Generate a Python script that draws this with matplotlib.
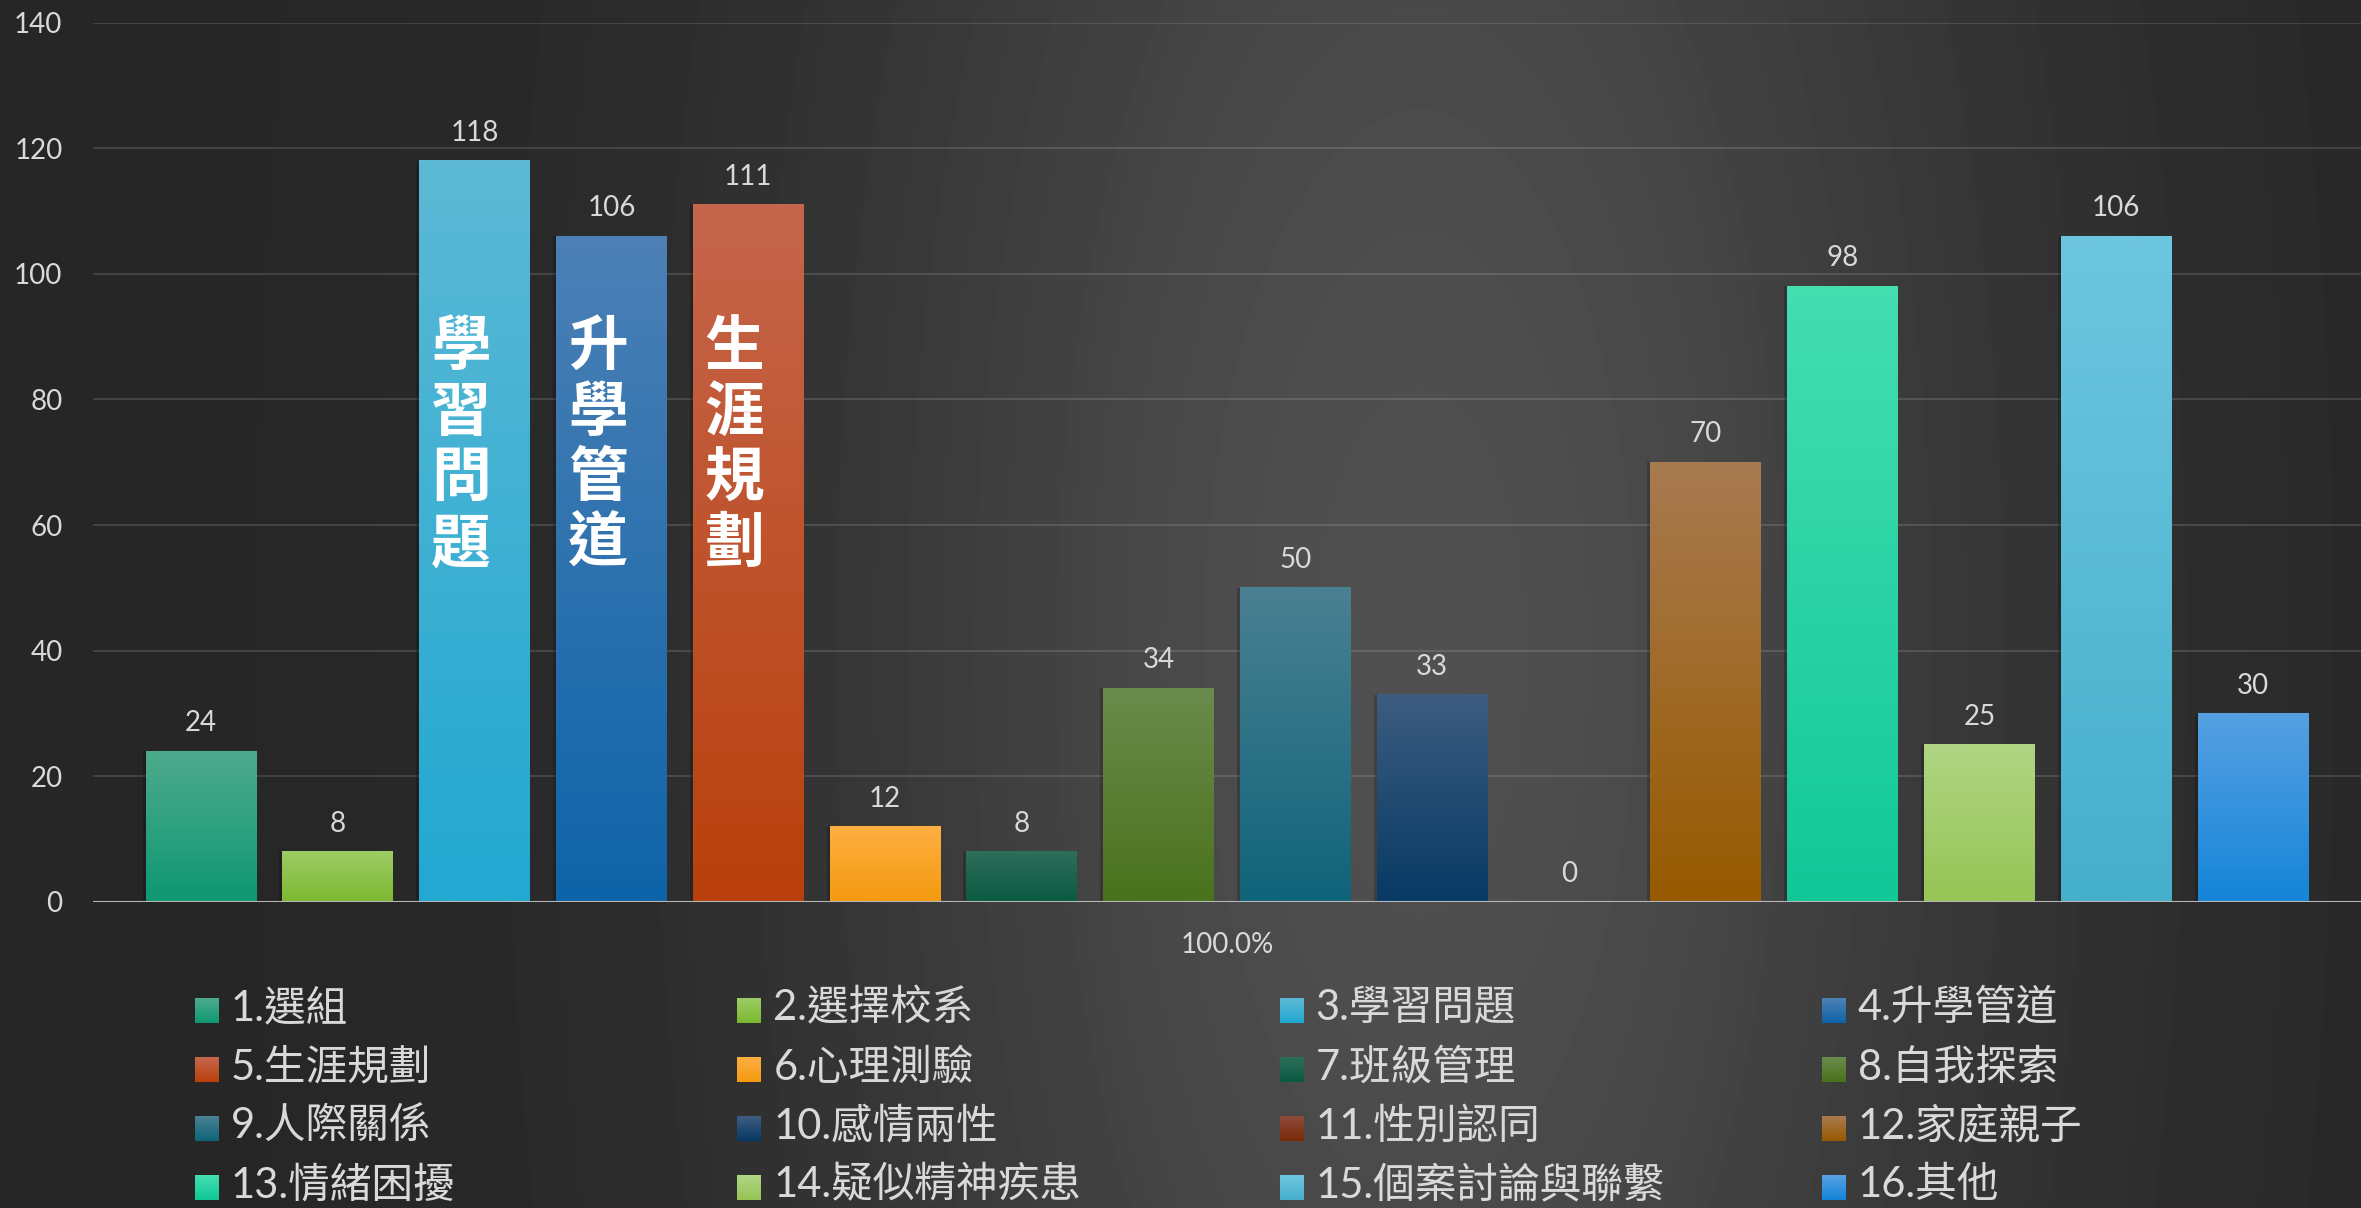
import numpy as np
import matplotlib.pyplot as plt
from matplotlib.colors import to_rgb
from matplotlib.transforms import offset_copy

# ----------------------------------------------------------------------
# Data: counselling topics and number of cases
# ----------------------------------------------------------------------
CATEGORIES = [
    "1.選組", "2.選擇校系", "3.學習問題", "4.升學管道",
    "5.生涯規劃", "6.心理測驗", "7.班級管理", "8.自我探索",
    "9.人際關係", "10.感情兩性", "11.性別認同", "12.家庭親子",
    "13.情緒困擾", "14.疑似精神疾患", "15.個案討論與聯繫", "16.其他",
]
COUNTS = [24, 8, 118, 106, 111, 12, 8, 34, 50, 33, 0, 70, 98, 25, 106, 30]

# gradient fill per bar (top -> bottom)
TOP_COLORS = [
    "#4DAA8C", "#9DCC66", "#5CB9D5", "#4C80B6",
    "#C5664C", "#FDAF42", "#2E6E5A", "#6A8B4C",
    "#4A8092", "#3D5C80", "#8D4B3A", "#A87A50",
    "#44DEB0", "#B0D583", "#6DC6E0", "#56A0E2",
]
BOTTOM_COLORS = [
    "#0F9873", "#7CB830", "#22A8D1", "#0E64A8",
    "#B9400C", "#F59A10", "#0A5A42", "#4A721C",
    "#10647A", "#073A64", "#7A2A08", "#975A00",
    "#12C898", "#96C455", "#46AFCB", "#1585D8",
]

# vertical captions written inside the three tallest bars
BAR_NOTES = {2: "學習問題", 3: "升學管道", 4: "生涯規劃"}

Y_TICKS = [0, 20, 40, 60, 80, 100, 120, 140]
GROUP_LABEL = "100.0%"

plt.rcParams["font.family"] = ["Lato", "Noto Sans CJK TC", "DejaVu Sans"]
TEXT_GREY = "#d9d9d9"

W, H, DPI = 2361, 1208, 100
fig = plt.figure(figsize=(W / DPI, H / DPI), dpi=DPI)


def gradient(top, bottom, n=64):
    t = np.linspace(0, 1, n)[:, None, None]
    return (1 - t) * np.array(to_rgb(top)) + t * np.array(to_rgb(bottom))


# ----------------------------------------------------------------------
# Background: dark slate with a soft light patch right of centre
# ----------------------------------------------------------------------
bg = fig.add_axes([0, 0, 1, 1], zorder=0)
yy, xx = np.mgrid[0:H:4, 0:W:4]
r2 = ((xx - 1420) / 1000) ** 2 + ((yy - 650) / 2500) ** 2
level = (38 + 42 * np.exp(-r2 / 0.35)) / 255
bg.imshow(level, cmap="gray", vmin=0, vmax=1, extent=(0, W, H, 0),
          interpolation="bilinear", aspect="auto")

# legend, laid out row by row in four even columns
for k, (label, c0, c1) in enumerate(zip(CATEGORIES, TOP_COLORS, BOTTOM_COLORS)):
    row, col = divmod(k, 4)
    x0 = 195 + 542.3 * col
    y0 = 998 + 59 * row
    bg.imshow(gradient(c0, c1, 16), extent=(x0, x0 + 24, y0 + 25, y0),
              aspect="auto", interpolation="bilinear")
    bg.text(x0 + 36, y0 + 22.5, label, fontsize=30, color=TEXT_GREY,
            va="baseline", ha="left")

bg.set_xlim(0, W)
bg.set_ylim(H, 0)
bg.axis("off")

# ----------------------------------------------------------------------
# Bar chart
# ----------------------------------------------------------------------
y0_px, y140_px, left_px = 902, 22.6, 93
ax = fig.add_axes([left_px / W, (H - y0_px) / H,
                   (W - left_px) / W, (y0_px - y140_px) / H], zorder=1)
ax.patch.set_alpha(0)

x = np.arange(len(COUNTS))
width = 0.81

# soft drop shadow behind each bar
shadow_tr = offset_copy(ax.transData, fig=fig, x=-3, y=0, units="dots")
ax.bar(x, COUNTS, width=width, color="black", alpha=0.2,
       transform=shadow_tr, zorder=2)

bars = ax.bar(x, COUNTS, width=width, color="none", zorder=3)
for rect, c0, c1 in zip(bars, TOP_COLORS, BOTTOM_COLORS):
    h = rect.get_height()
    if h <= 0:
        continue
    bx = rect.get_x()
    ax.imshow(gradient(c0, c1), extent=(bx, bx + rect.get_width(), 0, h),
              aspect="auto", interpolation="bilinear", zorder=3)

for xi, v in zip(x, COUNTS):
    ax.annotate(str(v), (xi, v), xytext=(0, 14.4), textcoords="offset points",
                ha="center", va="baseline", fontsize=20, color=TEXT_GREY)

for idx, note in BAR_NOTES.items():
    ax.text(x[idx] - 0.1, 72.5, "\n".join(note), ha="center", va="center",
            fontsize=43, fontweight="bold", color="white",
            family="Noto Sans CJK TC", linespacing=1.12, zorder=5)

ax.annotate(GROUP_LABEL, (x.mean(), 0), xytext=(0, -36.7),
            textcoords="offset points", ha="center", va="baseline",
            fontsize=20, color=TEXT_GREY)

ax.axhline(0, color="#b8b8b8", lw=2.2, zorder=6)

ax.set_xlim(-0.79, len(COUNTS) - 1 + 0.79)
ax.set_ylim(0, 140)
ax.set_yticks(Y_TICKS)
ax.set_xticks([])
ax.tick_params(axis="y", length=0, pad=22, labelsize=20, labelcolor=TEXT_GREY)
ax.yaxis.grid(True, color="white", alpha=0.13, lw=1.5)
ax.set_axisbelow(True)
for s in ax.spines.values():
    s.set_visible(False)

fig.savefig("out.png", dpi=DPI)
